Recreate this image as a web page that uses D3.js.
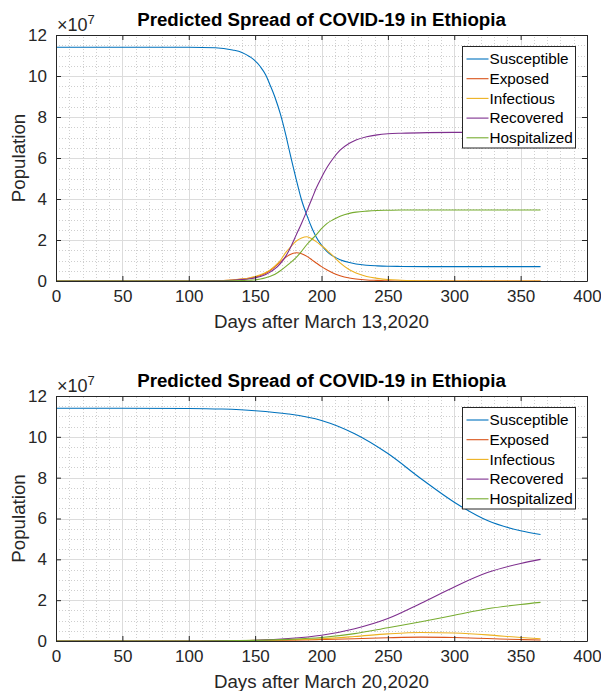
<!DOCTYPE html>
<html>
<head>
<meta charset="utf-8">
<script src="https://cdn.jsdelivr.net/npm/d3@7"></script>
<style>
  html, body { margin: 0; padding: 0; background: #fff; }
  svg { display: block; font-family: "Liberation Sans", Arial, Helvetica, sans-serif; }
</style>
</head>
<body>
<div id="chart"></div>
<script>
// values are in units of 10^7 people
const seriesNames = ["Susceptible", "Exposed", "Infectious", "Recovered", "Hospitalized"];
const seriesColors = ["#0072BD", "#D95319", "#EDB120", "#7E2F8E", "#77AC30"];

const xTicks = [0, 50, 100, 150, 200, 250, 300, 350, 400];
const yTicks = [0, 2, 4, 6, 8, 10, 12];

// Panel 1: days after March 13, 2020
const days1 = [0, 100, 120, 133, 140, 146, 149, 154, 158, 161, 165, 169, 173, 176, 181, 185, 189, 193, 196, 200, 204, 209, 214, 221, 226, 234, 242, 250, 260, 280, 300, 330, 365];
const susceptible1 = [11.40, 11.40, 11.38, 11.27, 11.15, 10.94, 10.80, 10.45, 10.05, 9.60, 8.95, 8.15, 7.15, 6.30, 4.95, 3.95, 3.20, 2.55, 2.15, 1.75, 1.45, 1.20, 1.04, 0.90, 0.83, 0.77, 0.74, 0.72, 0.71, 0.70, 0.70, 0.70, 0.70];
const exposed1 = [0, 0, 0.01, 0.05, 0.09, 0.14, 0.18, 0.27, 0.38, 0.50, 0.70, 0.92, 1.15, 1.28, 1.38, 1.33, 1.20, 1.02, 0.88, 0.70, 0.55, 0.38, 0.26, 0.15, 0.10, 0.05, 0.03, 0.01, 0, 0, 0, 0, 0];
const infectious1 = [0, 0, 0.01, 0.05, 0.09, 0.15, 0.20, 0.30, 0.42, 0.53, 0.74, 1.00, 1.38, 1.60, 1.95, 2.10, 2.16, 2.05, 1.92, 1.72, 1.51, 1.20, 0.88, 0.55, 0.39, 0.22, 0.13, 0.07, 0.04, 0.01, 0, 0, 0];
const recovered1 = [0, 0, 0.01, 0.04, 0.07, 0.11, 0.14, 0.22, 0.32, 0.42, 0.60, 0.85, 1.20, 1.55, 2.25, 2.82, 3.42, 4.05, 4.52, 5.05, 5.52, 6.00, 6.38, 6.72, 6.88, 7.04, 7.13, 7.18, 7.21, 7.24, 7.25, 7.25, 7.25];
const hospitalized1 = [0, 0, 0, 0.01, 0.02, 0.04, 0.05, 0.10, 0.16, 0.22, 0.33, 0.50, 0.70, 0.86, 1.15, 1.45, 1.78, 2.05, 2.25, 2.55, 2.80, 3.00, 3.16, 3.30, 3.36, 3.41, 3.44, 3.45, 3.46, 3.46, 3.46, 3.46, 3.46];

// Panel 2: days after March 20, 2020
const days2 = [0, 50, 100, 125, 150, 175, 200, 225, 250, 275, 300, 325, 350, 365];
const susceptible2 = [11.40, 11.40, 11.39, 11.36, 11.28, 11.12, 10.80, 10.15, 9.18, 7.95, 6.80, 5.90, 5.40, 5.22];
const exposed2 = [0, 0, 0, 0.01, 0.02, 0.04, 0.07, 0.11, 0.16, 0.19, 0.17, 0.12, 0.07, 0.05];
const infectious2 = [0, 0, 0, 0.01, 0.03, 0.06, 0.11, 0.22, 0.35, 0.42, 0.39, 0.30, 0.17, 0.11];
const recovered2 = [0, 0, 0, 0.01, 0.04, 0.12, 0.28, 0.60, 1.10, 1.85, 2.65, 3.35, 3.80, 4.00];
const hospitalized2 = [0, 0, 0, 0.01, 0.03, 0.08, 0.17, 0.36, 0.65, 0.94, 1.26, 1.58, 1.79, 1.89];

const W = 601, H = 691;
const axisColor = "#262626";

const svg = d3.select("#chart").append("svg")
  .attr("width", W)
  .attr("height", H);

function drawPanel(opt) {
  const x = d3.scaleLinear().domain([0, 400]).range([56, 587]);
  const y = d3.scaleLinear().domain([0, 12]).range([opt.bottom, opt.top]);
  const g = svg.append("g");

  // minor grid (dotted)
  const minorX = d3.range(0, 401, 10).filter(v => v % 50 !== 0);
  const minorY = d3.range(0, 12.01, 0.5).filter(v => v % 2 !== 0);
  g.append("g").selectAll("line").data(minorX).join("line")
    .attr("x1", d => Math.round(x(d)) + 0.5).attr("x2", d => Math.round(x(d)) + 0.5)
    .attr("y1", y(0)).attr("y2", y(12))
    .attr("stroke", "#cfcfcf").attr("stroke-width", 1).attr("stroke-dasharray", "1,2");
  g.append("g").selectAll("line").data(minorY).join("line")
    .attr("y1", d => Math.round(y(d)) + 0.5).attr("y2", d => Math.round(y(d)) + 0.5)
    .attr("x1", x(0)).attr("x2", x(400))
    .attr("stroke", "#cfcfcf").attr("stroke-width", 1).attr("stroke-dasharray", "1,2");

  // major grid
  g.append("g").selectAll("line").data(xTicks.slice(1, -1)).join("line")
    .attr("x1", d => Math.round(x(d)) + 0.5).attr("x2", d => Math.round(x(d)) + 0.5)
    .attr("y1", y(0)).attr("y2", y(12))
    .attr("stroke", "#dcdcdc").attr("stroke-width", 1);
  g.append("g").selectAll("line").data(yTicks.slice(1, -1)).join("line")
    .attr("y1", d => Math.round(y(d)) + 0.5).attr("y2", d => Math.round(y(d)) + 0.5)
    .attr("x1", x(0)).attr("x2", x(400))
    .attr("stroke", "#dcdcdc").attr("stroke-width", 1);

  // series lines
  const line = d3.line()
    .x(d => x(d[0]))
    .y(d => y(d[1]))
    .curve(d3.curveMonotoneX);
  opt.series.forEach((vals, i) => {
    g.append("path")
      .datum(opt.days.map((d, j) => [d, vals[j]]))
      .attr("fill", "none")
      .attr("stroke", seriesColors[i])
      .attr("stroke-width", 1.1)
      .attr("d", line);
  });

  // axes with inward ticks on all four sides (box on)
  const xb = d3.axisBottom(x).tickValues(xTicks).tickSizeInner(-5).tickSizeOuter(0).tickPadding(9);
  const xt = d3.axisTop(x).tickValues(xTicks).tickSizeInner(-5).tickSizeOuter(0).tickFormat("");
  const yl = d3.axisLeft(y).tickValues(yTicks).tickSizeInner(-5).tickSizeOuter(0).tickPadding(9);
  const yr = d3.axisRight(y).tickValues(yTicks).tickSizeInner(-5).tickSizeOuter(0).tickFormat("");

  [[xb, `translate(0,${y(0)})`], [xt, `translate(0,${y(12)})`],
   [yl, `translate(${x(0)},0)`], [yr, `translate(${x(400)},0)`]].forEach(([ax, tr]) => {
    const a = g.append("g").attr("transform", tr).call(ax);
    a.select(".domain").attr("stroke", axisColor);
    a.selectAll(".tick line").attr("stroke", axisColor);
    a.selectAll(".tick text")
      .attr("fill", axisColor)
      .style("font-size", "17px")
      .style("font-family", "'Liberation Sans', Arial, sans-serif");
  });

  // exponent label
  const ex = g.append("text")
    .attr("x", 57).attr("y", opt.top - 4)
    .attr("fill", axisColor)
    .style("font-size", "18px");
  ex.append("tspan").text("\u00d710");
  ex.append("tspan").attr("dy", -7).style("font-size", "13px").text("7");

  // title
  g.append("text")
    .attr("x", (x(0) + x(400)) / 2).attr("y", opt.top - 9)
    .attr("text-anchor", "middle")
    .style("font-size", "18.7px").style("font-weight", "bold")
    .attr("fill", "#000")
    .text("Predicted Spread of COVID-19 in Ethiopia");

  // axis labels
  g.append("text")
    .attr("x", (x(0) + x(400)) / 2).attr("y", opt.bottom + 47)
    .attr("text-anchor", "middle")
    .attr("fill", axisColor)
    .style("font-size", "18.7px")
    .text(opt.xLabel);
  g.append("text")
    .attr("transform", `translate(25,${(opt.top + opt.bottom) / 2}) rotate(-90)`)
    .attr("text-anchor", "middle")
    .attr("fill", axisColor)
    .style("font-size", "18.7px")
    .text("Population");

  // legend
  const lg = g.append("g").attr("transform", `translate(462.5,${opt.top + 11.5})`);
  lg.append("rect")
    .attr("width", 113).attr("height", 101.5)
    .attr("fill", "#fff").attr("stroke", axisColor).attr("stroke-width", 1);
  seriesNames.forEach((name, i) => {
    const cy = 12.5 + i * 19.7;
    lg.append("line")
      .attr("x1", 4).attr("x2", 26).attr("y1", cy).attr("y2", cy)
      .attr("stroke", seriesColors[i]).attr("stroke-width", 1.1);
    lg.append("text")
      .attr("x", 27).attr("y", cy + 5.3)
      .attr("fill", "#000")
      .style("font-size", "15.3px")
      .text(name);
  });
}

drawPanel({
  top: 35, bottom: 281,
  days: days1,
  series: [susceptible1, exposed1, infectious1, recovered1, hospitalized1],
  xLabel: "Days after March 13,2020"
});

drawPanel({
  top: 396, bottom: 641,
  days: days2,
  series: [susceptible2, exposed2, infectious2, recovered2, hospitalized2],
  xLabel: "Days after March 20,2020"
});
</script>
</body>
</html>
